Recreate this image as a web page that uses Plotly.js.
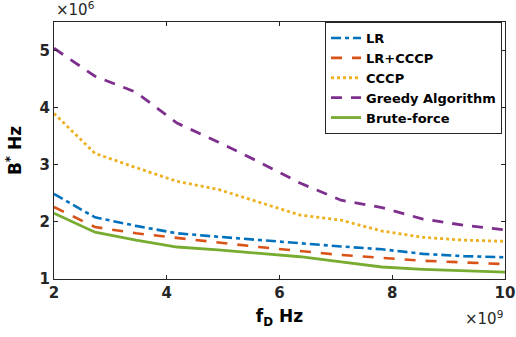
<!DOCTYPE html>
<html>
<head>
<meta charset="utf-8">
<script src="https://cdn.plot.ly/plotly-3.0.1.min.js"></script>
<style>
html,body{margin:0;padding:0;background:#fff;}
#chart{width:516px;height:337px;}
</style>
</head>
<body>
<div id="chart"></div>
<script>
// f_D in units of 1e9 Hz
var fD = [2, 2.727, 3.455, 4.182, 4.909, 5.636, 6.364, 7.091, 7.818, 8.545, 9.273, 10];
// B* in units of 1e6 Hz
var lr        = [2.49, 2.08, 1.93, 1.80, 1.74, 1.68, 1.63, 1.57, 1.52, 1.44, 1.40, 1.38];
var lrCccp    = [2.26, 1.91, 1.80, 1.72, 1.63, 1.56, 1.49, 1.42, 1.37, 1.32, 1.29, 1.26];
var cccp      = [3.90, 3.20, 2.95, 2.71, 2.57, 2.34, 2.12, 2.03, 1.84, 1.73, 1.68, 1.66];
var greedy    = [5.04, 4.55, 4.27, 3.73, 3.40, 3.05, 2.68, 2.38, 2.25, 2.05, 1.94, 1.86];
var brute     = [2.15, 1.82, 1.68, 1.56, 1.51, 1.45, 1.39, 1.30, 1.21, 1.17, 1.14, 1.12];
var seriesNames = ['LR', 'LR+CCCP', 'CCCP', 'Greedy Algorithm', 'Brute-force'];
var xTicks = [2, 4, 6, 8, 10];
var yTicks = [1, 2, 3, 4, 5];

var FONT = 'DejaVu Sans, Liberation Sans, Arial, sans-serif';
var AX = '#262626';

var traces = [
  {x: fD, y: lr, name: seriesNames[0], mode: 'lines',
   line: {color: '#0072BD', width: 2.6, dash: '10px,4px,4px,4px'}},
  {x: fD, y: lrCccp, name: seriesNames[1], mode: 'lines',
   line: {color: '#D95319', width: 2.6, dash: '11px,10px'}},
  {x: fD, y: cccp, name: seriesNames[2], mode: 'lines',
   line: {color: '#EDB120', width: 2.8, dash: '3px,3px'}},
  {x: fD, y: greedy, name: seriesNames[3], mode: 'lines',
   line: {color: '#7E2F8E', width: 2.8, dash: '11px,9px'}},
  {x: fD, y: brute, name: seriesNames[4], mode: 'lines',
   line: {color: '#77AC30', width: 2.8}}
];

var axisCommon = {
  showline: true, linecolor: AX, linewidth: 1, mirror: 'ticks',
  ticks: 'inside', ticklen: 4, tickcolor: AX, tickwidth: 1,
  showgrid: false, zeroline: false, ticklabeloverflow: 'allow',
  tickfont: {family: FONT, size: 15, color: AX, weight: 'bold'}
};

var layout = {
  width: 516, height: 337,
  margin: {l: 54, r: 11, t: 22, b: 58},
  paper_bgcolor: '#fff', plot_bgcolor: '#fff',
  font: {family: FONT, color: AX},
  showlegend: true,
  legend: {
    x: 0.9934, xanchor: 'right', y: 1, yanchor: 'top',
    bgcolor: '#fff', bordercolor: AX, borderwidth: 1,
    font: {family: FONT, size: 13, color: '#000', weight: 'bold'},
    tracegroupgap: 0, itemwidth: 30
  },
  xaxis: Object.assign({}, axisCommon, {
    range: [2, 10], tickvals: xTicks, ticktext: xTicks.map(String),
    title: {text: 'f<sub>D</sub> Hz', standoff: 9,
            font: {family: FONT, size: 17, color: '#000', weight: 'bold'}}
  }),
  yaxis: Object.assign({}, axisCommon, {
    range: [1, 5.5], tickvals: yTicks, ticktext: yTicks.map(String),
    title: {text: 'B<sup>*</sup> Hz', standoff: 13,
            font: {family: FONT, size: 17, color: '#000', weight: 'bold'}}
  }),
  annotations: [
    {text: '×10<sup>6</sup>', xref: 'paper', yref: 'paper', x: 0, y: 1,
     xanchor: 'left', yanchor: 'bottom', showarrow: false, yshift: 1,
     font: {family: FONT, size: 15, color: AX}},
    {text: '×10<sup>9</sup>', xref: 'paper', yref: 'paper', x: 1, y: -0.105,
     xanchor: 'right', yanchor: 'top', showarrow: false,
     font: {family: FONT, size: 15, color: AX}}
  ]
};

Plotly.newPlot('chart', traces, layout, {displayModeBar: false, staticPlot: true});
</script>
</body>
</html>
